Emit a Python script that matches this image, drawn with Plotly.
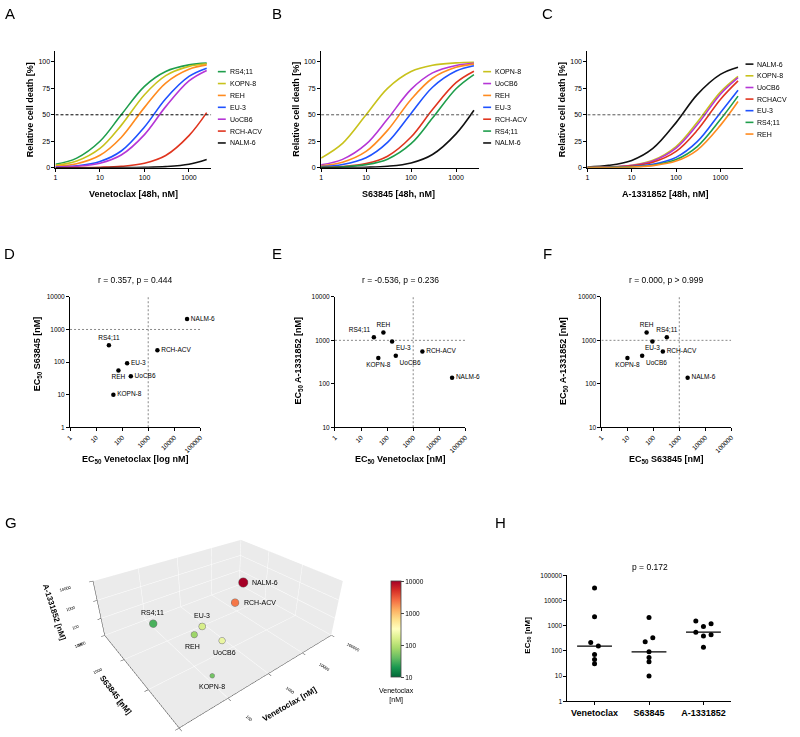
import numpy as np
import plotly.graph_objects as go

FONT = "Arial, Liberation Sans, Helvetica, sans-serif"
W, H = 800, 737

# ---------------- data ----------------
doses = [1, 3, 10, 30, 100, 300, 1000, 2500]

ven_order = ["RS4;11", "KOPN-8", "REH", "EU-3", "UoCB6", "RCH-ACV", "NALM-6"]
ven_rs411 = [3.2, 9.1, 25, 50, 76.9, 90.9, 97.1, 98.8]
ven_kopn8 = [2.2, 6.3, 18.2, 40, 69, 87, 95.7, 98.2]
ven_reh = [1.3, 3.8, 11.8, 28.6, 57, 80, 93, 97.1]
ven_eu3 = [0.6, 1.8, 5.9, 15.8, 38.5, 65.2, 86.2, 94]
ven_uocb6 = [0.45, 1.35, 4.3, 12, 31.3, 57.7, 82, 91.9]
ven_rchacv = [0.04, 0.13, 0.43, 1.3, 4.2, 11.5, 30.3, 52]
ven_nalm6 = [0.0, 0.01, 0.03, 0.1, 0.33, 1.0, 3.2, 7.7]

s63_order = ["KOPN-8", "UoCB6", "REH", "EU-3", "RCH-ACV", "RS4;11", "NALM-6"]
s63_kopn8 = [9.1, 23, 50, 75, 90.9, 96.8, 99, 99.6]
s63_uocb6 = [2.8, 7.9, 22.2, 46, 74, 89.6, 96.6, 98.6]
s63_reh = [1.8, 5.2, 15.4, 35.3, 64.5, 84.5, 94.8, 97.8]
s63_eu3 = [1.0, 3.1, 9.5, 24, 51.3, 76, 91.3, 96.3]
s63_rchacv = [0.4, 1.2, 3.9, 10.9, 29, 55, 80.3, 91.1]
s63_rs411 = [0.3, 0.9, 2.9, 8.1, 22.7, 46.9, 74.6, 88]
s63_nalm6 = [0.05, 0.14, 0.5, 1.4, 4.5, 12.5, 32, 54.3]

a13_order = ["NALM-6", "KOPN-8", "UoCB6", "RCHACV", "EU-3", "RS4;11", "REH"]
a13_nalm6 = [0.7, 2.2, 6.9, 18.2, 42.6, 69, 88.1, 94.9]
a13_kopn8 = [0.25, 0.75, 2.4, 7, 20, 42.9, 71.4, 86.2]
a13_uocb6 = [0.23, 0.68, 2.2, 6.4, 18.5, 40.5, 69.4, 85]
a13_rchacv = [0.18, 0.54, 1.8, 5.2, 15.4, 35.3, 64.5, 82]
a13_eu3 = [0.1, 0.33, 1.1, 3.2, 9.8, 24.6, 52, 73.1]
a13_rs411 = [0.08, 0.25, 0.83, 2.4, 7.7, 20, 45.5, 67.6]
a13_reh = [0.07, 0.2, 0.66, 2, 6.25, 16.7, 40, 62.5]

cell_lines = ["NALM-6", "RS4;11", "RCH-ACV", "EU-3", "REH", "UoCB6", "KOPN-8"]
ec50_venetoclax = [31000, 31, 2250, 155, 72, 215, 46]
ec50_s63845 = [2100, 330, 232, 92, 55, 37, 10]
ec50_a1331852 = [138, 1180, 550, 935, 1520, 440, 390]

drugs = ["Venetoclax", "S63845", "A-1331852"]
corr_titles = ["r = 0.357, p = 0.444", "r = -0.536, p = 0.236", "r = 0.000, p > 0.999"]
h_title = "p = 0.172"

# ---------------- styles ----------------
COL = {"RS4;11": "#1f9e4c", "KOPN-8": "#c8c21c", "REH": "#ff8b1f", "EU-3": "#1f52ff",
       "UoCB6": "#b536d6", "RCH-ACV": "#e0351f", "RCHACV": "#e0351f", "NALM-6": "#111111"}


def X(px):
    return px / W


def Y(py):
    return 1 - py / H


fig = go.Figure()
annotations = []
shapes = []


def ann(text, x, y, size=8, bold=False, angle=0, xanchor="center", yanchor="middle", color="black"):
    annotations.append(dict(text=("<b>%s</b>" % text) if bold else text, x=X(x), y=Y(y),
                            xref="paper", yref="paper", showarrow=False, textangle=angle,
                            xanchor=xanchor, yanchor=yanchor, borderpad=0,
                            font=dict(family=FONT, size=size, color=color)))


axis_common = dict(showline=True, linecolor="black", linewidth=1, ticks="outside", ticklen=3,
                   tickwidth=1, tickcolor="black", showgrid=False, zeroline=False,
                   tickfont=dict(family=FONT, size=7, color="black"))

# ---------------- Panels A-C ----------------
curve_sets = [
    (ven_order, [ven_rs411, ven_kopn8, ven_reh, ven_eu3, ven_uocb6, ven_rchacv, ven_nalm6],
     "Venetoclax [48h, nM]", (51, 208.3), 130, 215, "A", 5, "black"),
    (s63_order, [s63_kopn8, s63_uocb6, s63_reh, s63_eu3, s63_rchacv, s63_rs411, s63_nalm6],
     "S63845 [48h, nM]", (319.3, 478.3), 397, 483, "B", 275, "#555555"),
    (a13_order, [a13_nalm6, a13_kopn8, a13_uocb6, a13_rchacv, a13_eu3, a13_rs411, a13_reh],
     "A-1331852 [48h, nM]", (588.3, 745), 667, 748, "C", 548, "#555555"),
]
legend_rows = [[68.3, 80.3, 92.3, 104.3, 116.3, 128.3, 140.3],
               [68.3, 80.3, 92.3, 104.3, 116.3, 128.3, 140.3],
               [60.7, 72.5, 84.3, 96.0, 107.7, 119.5, 131.3]]
ytop, ybot = 47.7, 165.3
for i, (order, vals, xtitle, (xl, xr), xtc, lx, letter, letx, dashcol) in enumerate(curve_sets):
    n = i + 1
    xa = "x%d" % n if n > 1 else "x"
    ya = "y%d" % n if n > 1 else "y"
    for name, v in zip(order, vals):
        fig.add_trace(go.Scatter(x=doses, y=v, mode="lines", line=dict(color=COL[name], width=1.6, shape="spline"),
                                 xaxis=xa, yaxis=ya, showlegend=False, name=name, hoverinfo="skip"))
    fig.add_trace(go.Scatter(x=[1, 10 ** 3.5], y=[50, 50], mode="lines",
                             line=dict(color=dashcol, width=1, dash="3px,2px"),
                             xaxis=xa, yaxis=ya, showlegend=False, hoverinfo="skip"))
    fig.layout["xaxis%d" % n if n > 1 else "xaxis"] = dict(
        axis_common, type="log", range=[0, 3.5], domain=[X(xl), X(xr)], anchor=ya,
        tickvals=[1, 10, 100, 1000], ticktext=["1", "10", "100", "1000"])
    fig.layout["yaxis%d" % n if n > 1 else "yaxis"] = dict(
        axis_common, range=[0, 110], domain=[Y(ybot), Y(ytop)], anchor=xa,
        tickvals=[0, 25, 50, 75, 100])
    ann(xtitle, xtc, 192, size=9, bold=True)
    ann("Relative cell death [%]", xl - 25, 106.5, size=9, bold=True, angle=-90)
    for name, ry in zip(order, legend_rows[i]):
        shapes.append(dict(type="line", xref="paper", yref="paper", x0=X(lx), x1=X(lx + 8),
                           y0=Y(ry), y1=Y(ry), line=dict(color=COL[name], width=1.6)))
        ann(name, lx + 11, ry, size=7, xanchor="left")
    ann(letter, letx, 10, size=15)

# ---------------- Panels D-F ----------------
scatter_sets = [
    (ec50_venetoclax, ec50_s63845, [0, 5], [0, 4], (65.7, 197.3), "EC<sub>50</sub> Venetoclax [log nM]",
     "EC<sub>50</sub> S63845 [nM]", 33, 353, "D", 5,
     ["middle right", "top center", "middle right", "middle right", "bottom center", "middle right", "middle right"]),
    (ec50_venetoclax, ec50_a1331852, [0, 5], [1, 4], (333.3, 465), "EC<sub>50</sub> Venetoclax [nM]",
     "EC<sub>50</sub> A-1331852 [nM]", 297, 360, "E", 275,
     ["middle right", "top left", "middle right", "bottom right", "top center", "bottom right", "bottom center"]),
    (ec50_s63845, ec50_a1331852, [0, 5], [1, 4], (602.5, 733.5), "EC<sub>50</sub> S63845 [nM]",
     "EC<sub>50</sub> A-1331852 [nM]", 564, 360, "F", 548,
     ["middle right", "top center", "middle right", "bottom center", "top center", "bottom right", "bottom center"]),
]
dtop, dbot = 295.7, 427.3
for j, (xv, yv, xr_, yr_, (xl, xr), xt, yt, ytx, yty, letter, letx, tpos) in enumerate(scatter_sets):
    n = j + 4
    xa, ya = "x%d" % n, "y%d" % n
    fig.add_trace(go.Scatter(x=[1000, 1000], y=[10 ** yr_[0], 10 ** yr_[1]], mode="lines",
                             line=dict(color="#888888", width=1, dash="2px,2px"),
                             xaxis=xa, yaxis=ya, showlegend=False, hoverinfo="skip"))
    fig.add_trace(go.Scatter(x=[10 ** xr_[0], 10 ** xr_[1]], y=[1000, 1000], mode="lines",
                             line=dict(color="#888888", width=1, dash="2px,2px"),
                             xaxis=xa, yaxis=ya, showlegend=False, hoverinfo="skip"))
    fig.add_trace(go.Scatter(x=xv, y=yv, mode="markers+text", text=cell_lines, textposition=tpos,
                             textfont=dict(family=FONT, size=6.5, color="black"),
                             marker=dict(color="black", size=4.5),
                             xaxis=xa, yaxis=ya, showlegend=False, cliponaxis=False))
    xticks = [1, 10, 100, 1000, 10000, 100000]
    yticks = [10 ** k for k in range(yr_[0], yr_[1] + 1)]
    fig.layout["xaxis%d" % n] = dict(axis_common, type="log", range=xr_, domain=[X(xl), X(xr)], anchor=ya,
                                     tickvals=xticks, ticktext=[str(t) for t in xticks], tickangle=-45,
                                     tickfont=dict(family=FONT, size=6.5, color="black"))
    fig.layout["yaxis%d" % n] = dict(axis_common, type="log", range=yr_, domain=[Y(dbot), Y(dtop)], anchor=xa,
                                     tickvals=yticks, ticktext=[str(t) for t in yticks],
                                     tickfont=dict(family=FONT, size=6.5, color="black"))
    ann(corr_titles[j], (xl + xr) / 2, 279, size=8.5)
    ann(xt, (xl + xr) / 2, 460, size=9, bold=True)
    ann(yt, ytx, yty, size=9, bold=True, angle=-90)
    ann(letter, letx, 252, size=15)

# ---------------- Panel G (3D) ----------------
g_sizes = [11, 9, 9, 8, 7.5, 7.5, 5.5]
g_label_shift = [(7, 0, "left"), (0, 11, "center"), (7, 0, "left"), (0, 11, "center"),
                 (-2, -12, "center"), (3, -12, "center"), (0, -11, "center")]
fig.add_trace(go.Scatter3d(
    x=ec50_venetoclax, y=ec50_s63845, z=ec50_a1331852, mode="markers", text=cell_lines,
    marker=dict(size=g_sizes, color=np.log10(ec50_venetoclax), cmin=1, cmax=4,
                colorscale="RdYlGn", reversescale=True, opacity=1,
                line=dict(color="#777777", width=0.5),
                colorbar=dict(x=X(390), xanchor="left", y=Y(583), yanchor="top", len=97 / H, lenmode="fraction",
                              thickness=10, outlinewidth=0.8, outlinecolor="#444444",
                              tickvals=[1, 2, 3, 4], ticktext=["10", "100", "1000", "10000"],
                              ticks="outside", ticklen=3, tickfont=dict(family=FONT, size=6.5, color="black"),
                              xpad=0, ypad=0)),
    showlegend=False, scene="scene"))
scene_ann = []
for nm, xv, yv, zv, (dx, dy, xanc) in zip(cell_lines, ec50_venetoclax, ec50_s63845, ec50_a1331852, g_label_shift):
    scene_ann.append(dict(x=float(np.log10(xv)), y=float(np.log10(yv)), z=float(np.log10(zv)), text=nm,
                          showarrow=False, xanchor=xanc, yanchor="middle",
                          xshift=dx, yshift=dy, font=dict(family=FONT, size=7, color="black")))
ax3 = dict(type="log", backgroundcolor="#ebebeb", showbackground=True, gridcolor="white", gridwidth=1,
           showline=True, linecolor="#444444", linewidth=1, zeroline=False, ticks="outside", ticklen=3,
           tickfont=dict(family=FONT, size=7, color="black"), showspikes=False, title=dict(text=""))
t3 = [10, 100, 1000, 10000, 100000]
fig.update_layout(scene=dict(
    domain=dict(x=[X(25), X(405)], y=[0.0, 272 / H]),
    xaxis=dict(ax3, range=[1, 5], tickvals=t3, ticktext=[str(t) for t in t3]),
    yaxis=dict(ax3, range=[1, 4], tickvals=t3[:4], ticktext=[str(t) for t in t3[:4]]),
    zaxis=dict(ax3, range=[1, 4], tickvals=t3[:4], ticktext=[str(t) for t in t3[:4]]),
    aspectmode="manual", aspectratio=dict(x=1.0, y=0.78, z=0.34),
    camera=dict(eye=dict(x=-0.907, y=-1.160, z=0.912), center=dict(x=0.016, y=0.021, z=0.046),
                up=dict(x=0, y=0, z=1)),
    annotations=scene_ann,
))
# 3D axis titles, laid along the axes
ann("Venetoclax [nM]", 287, 707, size=8, bold=True, angle=-30)
ann("S63845 [nM]", 112, 698, size=8, bold=True, angle=53)
ann("A-1331852 [nM]", 50, 614, size=8, bold=True, angle=72)
ann("Venetoclax<br>[nM]", 395, 698, size=7)
ann("G", 6, 523, size=15)

# ---------------- Panel H ----------------
h_offsets = [
    [0, 0, 0, 0.07, 0, -0.07, 0],
    [0, 0.07, -0.07, 0, 0, 0, 0],
    [0, 0.14, -0.14, 0, -0.14, 0.14, 0],
]
for k, vals in enumerate([ec50_venetoclax, ec50_s63845, ec50_a1331852]):
    fig.add_trace(go.Scatter(x=[k + o for o in h_offsets[k]], y=vals, mode="markers",
                             marker=dict(color="black", size=5), xaxis="x7", yaxis="y7",
                             showlegend=False, cliponaxis=False))
    med = float(np.median(vals))
    fig.add_trace(go.Scatter(x=[k - 0.32, k + 0.32], y=[med, med], mode="lines",
                             line=dict(color="black", width=1.2), xaxis="x7", yaxis="y7",
                             showlegend=False, hoverinfo="skip"))
hy = [1, 10, 100, 1000, 10000, 100000]
fig.layout["xaxis7"] = dict(axis_common, range=[-0.5, 2.5], domain=[X(568), X(733)], anchor="y7",
                            tickvals=[0, 1, 2], ticktext=["<b>%s</b>" % d for d in drugs],
                            tickfont=dict(family=FONT, size=9, color="black"))
fig.layout["yaxis7"] = dict(axis_common, type="log", range=[0, 5], domain=[Y(704), Y(576.7)], anchor="x7",
                            tickvals=hy, ticktext=[str(t) for t in hy],
                            tickfont=dict(family=FONT, size=6.5, color="black"))
ann(h_title, 652, 568, size=8.5)
ann("EC<sub>50</sub> [nM]", 528, 637, size=8, bold=True, angle=-90)
ann("H", 500, 523, size=15)

fig.update_layout(width=W, height=H, margin=dict(l=0, r=0, t=0, b=0), paper_bgcolor="white",
                  plot_bgcolor="white", font=dict(family=FONT, color="black"), showlegend=False,
                  annotations=annotations, shapes=shapes)
fig.write_html("out.html", config={"displayModeBar": False},
               post_script="document.body.style.margin='0px';")
